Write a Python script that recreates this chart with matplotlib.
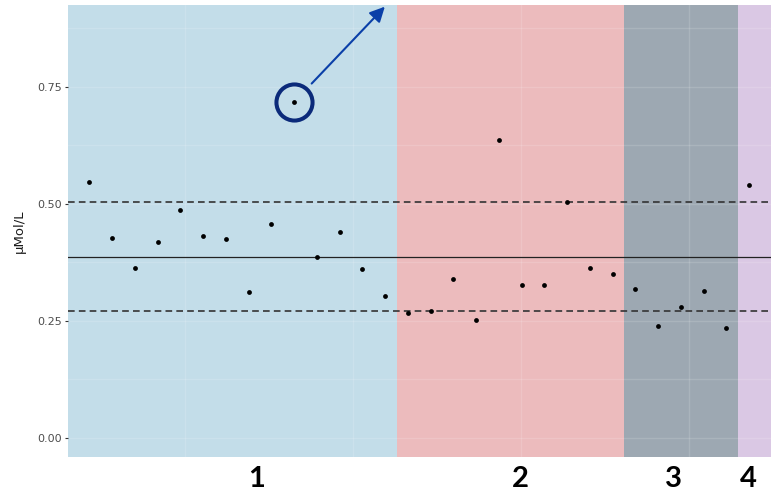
import matplotlib
matplotlib.use("Agg")
import matplotlib.pyplot as plt
import numpy as np

# ---- data ----
values = [0.546, 0.427, 0.362, 0.417, 0.487, 0.430, 0.424, 0.311, 0.456, 0.717,
          0.387, 0.439, 0.360, 0.303,
          0.267, 0.270, 0.338, 0.251, 0.635, 0.327, 0.327, 0.504, 0.363, 0.350,
          0.318, 0.239, 0.280, 0.314, 0.235,
          0.540]
phases = [1]*14 + [2]*10 + [3]*5 + [4]*1
phase_labels = ["1", "2", "3", "4"]
center_line = 0.387
upper_limit = 0.503
lower_limit = 0.2705
yticks = [0.00, 0.25, 0.50, 0.75]
ytick_labels = ["0.00", "0.25", "0.50", "0.75"]
ylabel = "µMol/L"
highlight_index = 9

# ---- styles / layout ----
phase_colors = {1: "#C3DDE9", 2: "#ECBBBD", 3: "#9DA8B2", 4: "#DAC8E4"}
label_x = [7.33, 18.93, 25.67, 28.97]
xlim = (-0.94, 29.96)
ylim = (-0.041, 0.924)

fig = plt.figure(figsize=(7.71, 4.90), dpi=100)
ax = fig.add_axes([68/771, 33/490, 703/771, 452/490])
x = np.arange(len(values))

# phase rectangles
ph = np.array(phases)
bounds = [xlim[0]]
for i in range(1, len(ph)):
    if ph[i] != ph[i-1]:
        bounds.append((x[i-1] + x[i]) / 2)
bounds.append(xlim[1] + 1)
uniq = [ph[0]] + [ph[i] for i in range(1, len(ph)) if ph[i] != ph[i-1]]
for p, a, b in zip(uniq, bounds[:-1], bounds[1:]):
    ax.axvspan(a, b, color=phase_colors[p], lw=0, zorder=0)

# faint grid lines
for gy in [0.0, 0.125, 0.25, 0.375, 0.5, 0.625, 0.75, 0.875]:
    ax.axhline(gy, color="white", lw=1.0, alpha=0.14, zorder=1)
for gx in [4.21, 11.59, 18.98, 26.36]:
    ax.axvline(gx, color="white", lw=1.0, alpha=0.14, zorder=1)

# control lines
ax.axhline(center_line, color="#222222", lw=0.9, zorder=2)
ax.axhline(upper_limit, color="#333333", lw=1.2, ls=(0, (4, 2.5)), zorder=2)
ax.axhline(lower_limit, color="#333333", lw=1.2, ls=(0, (4, 2.5)), zorder=2)

# points
ax.scatter(x, values, s=12, color="black", zorder=3, linewidths=0)

# highlight circle and arrow
hx, hy = x[highlight_index], values[highlight_index]
ax.plot([hx], [hy], marker="o", ms=26, mfc="none", mec="#0B2A7A", mew=2.9,
        zorder=4, clip_on=False)
ax.annotate("", xy=(hx, hy), xycoords="data",
            xytext=(65.3, 68.6), textcoords="offset points",
            arrowprops=dict(arrowstyle="<|-,head_length=0.9,head_width=0.45",
                            color="#0A3FA8", lw=1.5, shrinkA=0, shrinkB=18.3),
            zorder=5, annotation_clip=False)

ax.set_xlim(*xlim)
ax.set_ylim(*ylim)
ax.set_yticks(yticks)
ax.set_yticklabels(ytick_labels, fontsize=8, color="#4D4D4D")
ax.set_xticks([])
ax.tick_params(axis="y", length=2.5, width=0.8, color="#333333", pad=2)
for s in ax.spines.values():
    s.set_visible(False)
ax.set_ylabel(ylabel, fontsize=9.5, color="#1A1A1A", labelpad=8)

for lab, lx in zip(phase_labels, label_x):
    ax.text(lx, -0.087, lab, ha="center", va="center", fontsize=21,
            fontweight="bold", family="Lato", color="black",
            transform=ax.transData, clip_on=False)

fig.savefig("out.png", dpi=100)
